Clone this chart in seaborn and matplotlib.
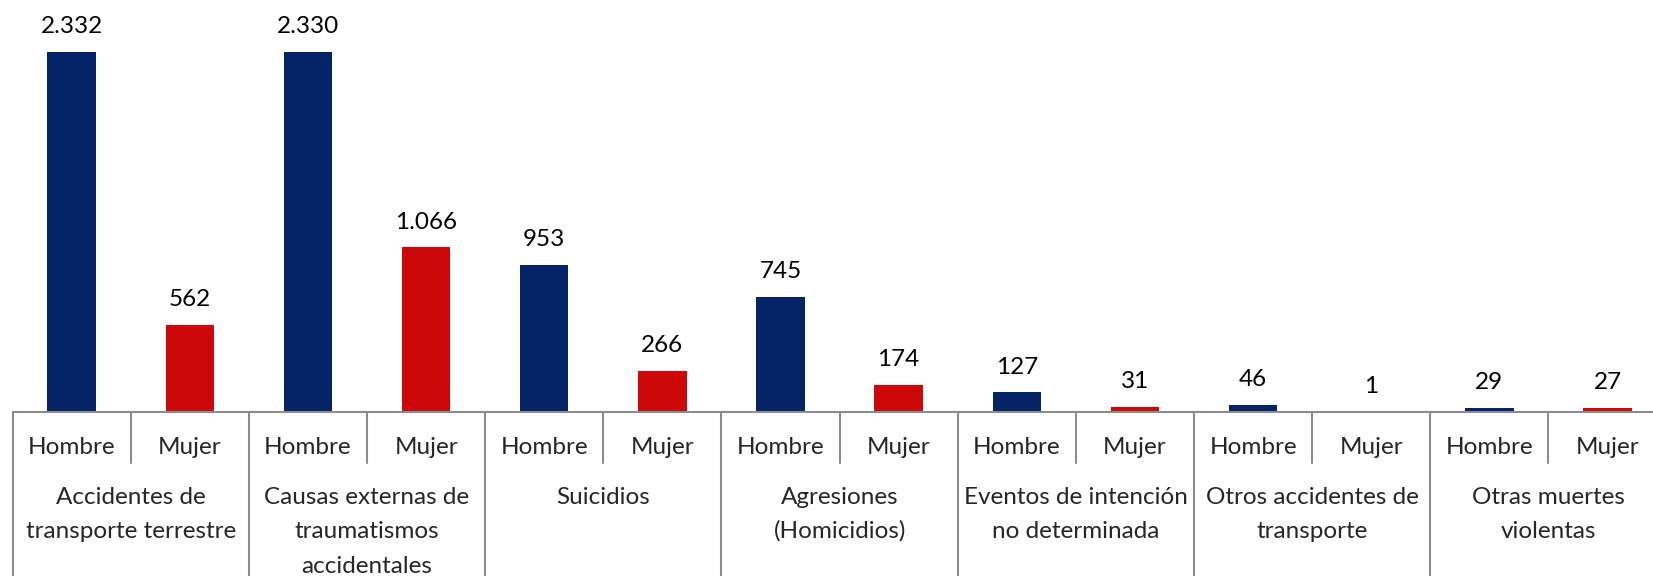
import matplotlib
matplotlib.use("Agg")
import matplotlib.pyplot as plt
import seaborn as sns
import pandas as pd

# causes of violent death, split by sex
categories = [
    "Accidentes de\ntransporte terrestre",
    "Causas externas de\ntraumatismos\naccidentales",
    "Suicidios",
    "Agresiones\n(Homicidios)",
    "Eventos de intención\nno determinada",
    "Otros accidentes de\ntransporte",
    "Otras muertes\nviolentas",
]
sexes = ["Hombre", "Mujer"]
hombre = [2332, 2330, 953, 745, 127, 46, 29]
mujer = [562, 1066, 266, 174, 31, 1, 27]

colors = {"Hombre": "#052468", "Mujer": "#CC0808"}

rows = []
for i, cat in enumerate(categories):
    for sexo, vals in zip(sexes, [hombre, mujer]):
        rows.append({"slot": f"{i}-{sexo}", "cat": cat, "sexo": sexo, "value": vals[i]})
df = pd.DataFrame(rows)

sns.set_style("white")
plt.rcParams["font.family"] = ["Lato", "DejaVu Sans"]

fig = plt.figure(figsize=(16.53, 5.76), dpi=100)
ax = fig.add_axes([12.6 / 1653, 164 / 576, 1654 / 1653, 412 / 576])

sns.barplot(data=df, x="slot", y="value", hue="sexo", palette=colors,
            dodge=False, width=0.41, legend=False, ax=ax, linewidth=0,
            saturation=1)

ax.set_xlim(-0.5, len(df) - 0.5)
ax.set_ylim(0, 2667)
ax.set_xlabel("")
ax.set_ylabel("")
ax.set_xticks([])
ax.set_yticks([])
for s in ["left", "top", "right"]:
    ax.spines[s].set_visible(False)
ax.spines["bottom"].set_color("#8c8c8c")
ax.spines["bottom"].set_linewidth(1.5)

fs = 17.5
# value labels with dot thousands separator
for x, v in enumerate(df["value"]):
    ax.annotate(f"{v:,}".replace(",", "."), (x, v), xytext=(0, 13.5),
                textcoords="offset points", ha="center", va="baseline",
                fontsize=fs, color="#000000")

tr = ax.get_xaxis_transform()
# sex labels
for x, sexo in enumerate(df["sexo"]):
    ax.text(x, -0.085, sexo, transform=tr, ha="center", va="center",
            fontsize=fs, clip_on=False)

# category labels
line_y = [-0.207, -0.289, -0.374]
for i, cat in enumerate(categories):
    for j, line in enumerate(cat.split("\n")):
        ax.text(2 * i + 0.5, line_y[j], line, transform=tr, ha="center",
                va="center", fontsize=fs, clip_on=False)

# separators
sep = dict(color="#8c8c8c", lw=1.5, transform=tr, clip_on=False)
for i in range(len(categories) + 1):
    ax.plot([2 * i - 0.5, 2 * i - 0.5], [0, -0.4], **sep)
for i in range(len(categories)):
    ax.plot([2 * i + 0.5, 2 * i + 0.5], [0, -0.124], **sep)

fig.savefig("out.png", dpi=100)
